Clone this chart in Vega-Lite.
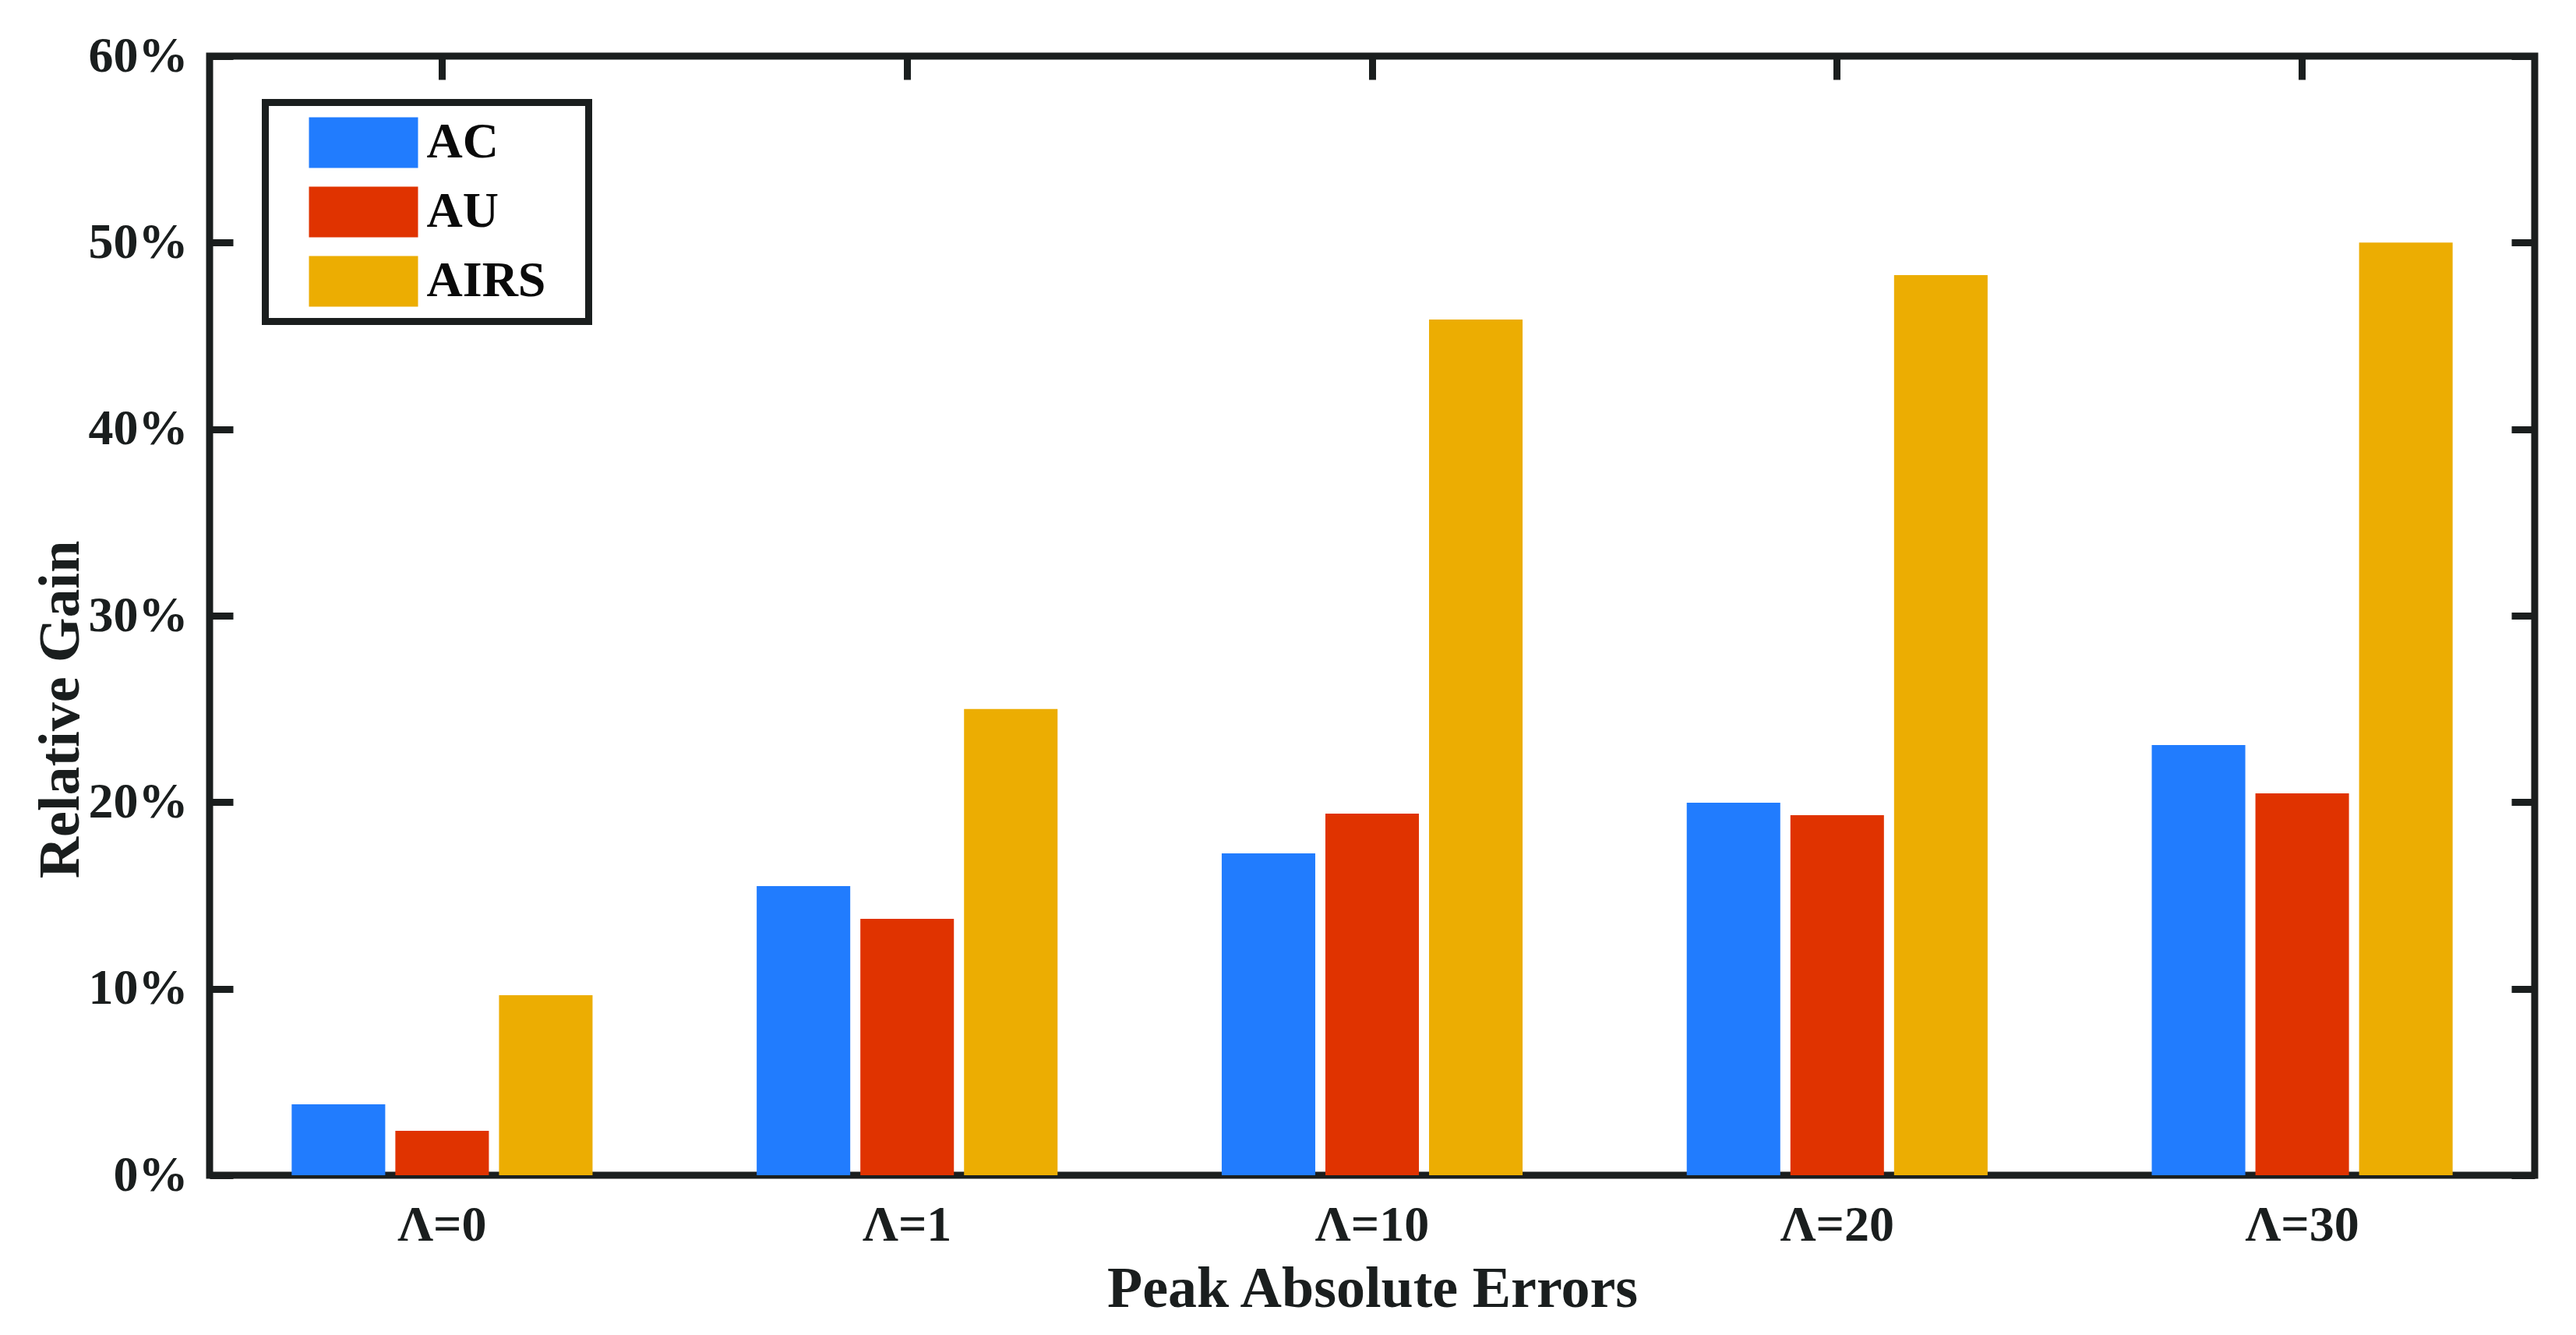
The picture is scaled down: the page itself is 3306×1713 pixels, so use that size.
{
  "$schema": "https://vega.github.io/schema/vega-lite/v6.json",
  "width": 2984,
  "height": 1436,
  "autosize": {"type": "none"},
  "padding": {"left": 269, "top": 72, "right": 53, "bottom": 205},
  "background": "white",
  "config": {
    "view": {"stroke": "#1a1e1e", "strokeWidth": 9},
    "font": "Liberation Serif",
    "axis": {
      "domain": false,
      "grid": false,
      "tickColor": "#1a1e1e",
      "tickWidth": 9,
      "tickSize": -30,
      "labelFont": "Liberation Serif",
      "labelFontWeight": "bold",
      "labelFontSize": 64,
      "labelColor": "#1a1e1e",
      "titleFont": "Liberation Serif",
      "titleFontWeight": "bold",
      "titleFontSize": 74,
      "titleColor": "#1a1e1e"
    }
  },
  "data": {
    "values": [
      {"lambda": "Λ=0", "method": "AC", "gain": 3.80},
      {"lambda": "Λ=0", "method": "AU", "gain": 2.38},
      {"lambda": "Λ=0", "method": "AIRS", "gain": 9.65},
      {"lambda": "Λ=1", "method": "AC", "gain": 15.50},
      {"lambda": "Λ=1", "method": "AU", "gain": 13.75},
      {"lambda": "Λ=1", "method": "AIRS", "gain": 25.0},
      {"lambda": "Λ=10", "method": "AC", "gain": 17.26},
      {"lambda": "Λ=10", "method": "AU", "gain": 19.39},
      {"lambda": "Λ=10", "method": "AIRS", "gain": 45.88},
      {"lambda": "Λ=20", "method": "AC", "gain": 19.97},
      {"lambda": "Λ=20", "method": "AU", "gain": 19.30},
      {"lambda": "Λ=20", "method": "AIRS", "gain": 48.26},
      {"lambda": "Λ=30", "method": "AC", "gain": 23.06},
      {"lambda": "Λ=30", "method": "AU", "gain": 20.47},
      {"lambda": "Λ=30", "method": "AIRS", "gain": 50.0}
    ]
  },
  "layer": [
    {
      "mark": {"type": "bar"},
      "encoding": {
        "x": {
          "field": "lambda",
          "type": "nominal",
          "sort": ["Λ=0", "Λ=1", "Λ=10", "Λ=20", "Λ=30"],
          "scale": {"paddingInner": 0.353, "paddingOuter": 0.1765},
          "axis": {
            "orient": "bottom",
            "title": "Peak Absolute Errors",
            "labelAngle": 0,
            "labelPadding": 62,
            "titleY": 168,
            "titleBaseline": "alphabetic"
          }
        },
        "xOffset": {
          "field": "method",
          "type": "nominal",
          "sort": ["AC", "AU", "AIRS"],
          "scale": {"paddingInner": 0.0977, "paddingOuter": 0}
        },
        "y": {
          "field": "gain",
          "type": "quantitative",
          "stack": null,
          "scale": {"domain": [0, 60], "nice": false},
          "axis": {
            "orient": "left",
            "values": [0, 10, 20, 30, 40, 50, 60],
            "labelExpr": "datum.value + '%'",
            "title": "Relative Gain",
            "labelPadding": 58,
            "titleX": -169,
            "titleY": 838,
            "titleAngle": -90,
            "titleBaseline": "alphabetic"
          }
        },
        "color": {
          "field": "method",
          "type": "nominal",
          "sort": ["AC", "AU", "AIRS"],
          "scale": {"domain": ["AC", "AU", "AIRS"], "range": ["#217CFE", "#E03300", "#ECAD02"]},
          "legend": {
            "title": " ",
            "titleOrient": "right",
            "titleFontSize": 1,
            "titlePadding": 36,
            "orient": "none",
            "legendX": 71.5,
            "legendY": 59.5,
            "direction": "vertical",
            "padding": 19,
            "strokeColor": "#1a1e1e",
            "fillColor": "white",
            "symbolType": "M-1,-1L3.3077,-1L3.3077,1L-1,1Z",
            "symbolSize": 4225,
            "symbolStrokeWidth": 0,
            "symbolOpacity": 1,
            "symbolOffset": 37,
            "labelOffset": 86,
            "labelFont": "Liberation Serif",
            "labelFontWeight": "bold",
            "labelFontSize": 64,
            "labelColor": "#0a0a0a",
            "rowPadding": 24,
            "encode": {"legend": {"update": {"strokeWidth": {"value": 9}}}}
          }
        }
      }
    },
    {
      "mark": {"type": "bar", "opacity": 0},
      "encoding": {
        "x": {
          "field": "lambda",
          "type": "nominal",
          "sort": ["Λ=0", "Λ=1", "Λ=10", "Λ=20", "Λ=30"],
          "axis": {"orient": "top", "labels": false, "title": null}
        },
        "y": {
          "field": "gain",
          "type": "quantitative",
          "stack": null,
          "axis": {"orient": "right", "labels": false, "title": null, "values": [0, 10, 20, 30, 40, 50, 60]}
        }
      }
    }
  ],
  "resolve": {"axis": {"x": "independent", "y": "independent"}}
}
